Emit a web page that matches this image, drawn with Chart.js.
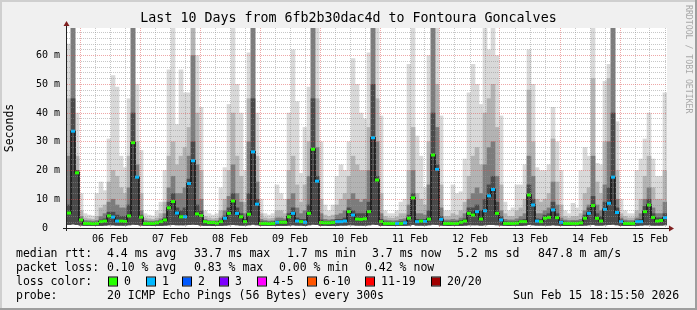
<!DOCTYPE html>
<html>
<head>
<meta charset="utf-8">
<script src="https://cdn.jsdelivr.net/npm/chart.js@4/dist/chart.umd.min.js"></script>
<style>
  html, body { margin: 0; padding: 0; background: #f0f0f0; overflow: hidden; }
  canvas { display: block; }
</style>
</head>
<body>
<canvas id="c" width="697" height="310"></canvas>
<script>
// ---- data (hours relative to 06 Feb 00:00; one bin = 1.6 h) ----
const startHour = -5.2;
const spanHours = 240;
const binHours = 1.6;
const yMax = 69.6;

const dayLabels = ['06 Feb','07 Feb','08 Feb','09 Feb','10 Feb','11 Feb','12 Feb','13 Feb','14 Feb','15 Feb'];
const yTickLabels = ['0  ','10 m','20 m','30 m','40 m','50 m','60 m'];

// median rtt (ms, shown as "m" seconds)
const medianRtt = [
  5.2,33.7,19.2,2.8,1.6,1.6,1.5,1.6,2.2,2.4,
  4.2,3.8,2.4,2.4,2.3,4.2,29.7,17.7,3.8,1.6,
  1.6,1.6,1.8,2.2,2.8,7.0,9.2,5.2,3.9,3.9,
  15.5,23.4,4.9,4.3,2.2,1.9,1.9,1.7,2.2,3.4,
  5.1,9.4,5.1,3.9,2.2,4.8,26.5,8.3,1.6,1.6,
  1.5,1.6,2.0,2.0,2.0,3.9,5.1,2.4,2.2,2.0,
  5.1,27.4,16.3,1.9,1.8,1.8,1.9,2.2,2.2,2.4,
  5.7,4.5,3.1,3.0,3.2,5.7,31.4,16.7,2.2,1.6,
  1.6,1.6,1.6,1.6,1.8,3.4,10.5,2.2,2.4,2.3,
  3.1,25.4,20.4,3.0,1.6,1.6,1.6,1.6,2.0,2.4,
  5.1,4.5,5.7,3.1,6.0,11.2,13.4,5.1,2.8,1.6,
  1.6,1.6,1.7,2.2,2.2,11.5,8.0,2.4,2.2,3.4,
  3.7,6.3,3.6,2.0,1.6,1.6,1.6,1.6,1.8,3.4,
  5.1,7.8,3.4,2.4,6.5,8.6,17.7,5.4,2.2,1.6,
  1.6,1.6,2.2,2.2,5.7,8.0,3.7,2.4,2.6,3.6
];
// lost pings per 20 in each bin
const lossCount = [
  0,1,0,0,0,0,0,0,0,0,
  0,1,1,0,0,0,0,1,0,0,
  0,0,0,0,0,0,0,1,0,1,
  1,1,0,0,0,0,0,0,0,1,
  0,0,1,0,0,0,1,1,0,0,
  0,0,1,0,0,0,1,1,0,1,
  0,0,1,0,0,0,0,1,1,1,
  0,1,0,0,0,0,1,0,0,0,
  0,0,1,0,1,0,0,1,0,1,
  0,0,1,1,0,0,0,0,0,0,
  0,0,1,0,1,1,1,0,1,0,
  0,0,0,0,0,0,1,1,0,0,
  0,1,0,1,0,0,0,0,0,0,
  1,0,0,0,1,1,1,1,1,0,
  0,0,1,1,0,0,0,0,0,1
];
// smoke: lowest ping, and upper edges of the four smoke shades (light -> dark)
const smokeLow = [
  1.2,1.4,1.2,1.0,0.9,0.9,0.8,0.9,0.9,1.0,
  1.1,1.1,1.0,1.0,1.0,1.1,1.3,1.2,1.0,0.9,
  0.9,0.8,0.9,0.9,1.0,1.1,1.2,1.1,1.1,1.1,
  1.2,1.3,1.2,1.0,0.9,0.9,0.8,0.9,0.9,1.0,
  1.1,1.2,1.1,1.0,1.0,1.1,1.3,1.1,0.9,0.9,
  0.8,0.9,0.9,0.9,0.9,1.0,1.1,1.0,1.0,0.9,
  1.1,1.3,1.2,0.9,0.9,0.8,0.9,0.9,1.0,1.0,
  1.1,1.1,1.0,1.0,1.0,1.1,1.3,1.2,0.9,0.9,
  0.8,0.8,0.9,0.9,0.9,1.0,1.2,1.0,1.0,1.0,
  1.1,1.3,1.2,1.0,0.9,0.8,0.9,0.9,0.9,1.0,
  1.1,1.1,1.1,1.0,1.1,1.2,1.2,1.1,1.0,0.9,
  0.8,0.9,0.9,0.9,1.0,1.2,1.1,1.0,1.0,1.0,
  1.0,1.1,1.0,0.9,0.8,0.8,0.9,0.9,0.9,1.0,
  1.1,1.2,1.0,1.0,1.1,1.2,1.3,1.1,0.9,0.8,
  0.8,0.9,0.9,1.0,1.1,1.1,1.0,1.0,1.0,1.1
];
const smokeLight = [
  64,70,40,12,5,4.5,4.2,12,16,13,
  31,53,49,25,21,45,70,50,27,5,
  4.5,4.2,6,9,20,55,70,36,55,47,
  47,70,60,42,6,5,4.5,5,14,21,
  43,70,50,40,20,61,70,40,10,5,
  4.5,5,15,12,10,40,62,44,19,35,
  49,70,70,30,8,6,8,18,22,20,
  30,59,50,40,38,61,70,70,39,6,
  5,5,6,9,10,57,70,32,25,14,
  60,70,70,39,6,6,15,12,12.6,24,
  47,57,50,43,70,62,70,60,39,9,
  6,7,15,15,22,62,50,21,20,20,
  22,42,30,20,6,5,8.6,7,20,28,
  25,70,22.5,22,51,57,70,37,10,6,
  5,5,20,24,31,40,24,18,18,47
];
const smokeMid = [
  45,70,25,6,3.5,3.2,3.0,4,7,8,
  16,20,18,14,12,25,70,30,12,3.5,
  3.2,3.0,3.5,5,9,25,30,22,25,28,
  35,70,40,20,4,3.5,3.2,3.4,6,10,
  20,40,25,18,9,45,70,25,5,3.5,
  3.2,3.4,6,6,5,20,25,15,9,15,
  30,70,45,10,4.5,4,4.5,8,10,12,
  18,25,22,20,20,35,70,45,12,4,
  3.5,3.4,3.8,5,5,20,35,12,10,8,
  30,70,50,15,4,4,5,4.5,6,9,
  18,25,28,22,40,45,50,35,15,5,
  4,4,6,7,10,48,30,10,9,10,
  12,31,16,8,4,3.5,4,4,5,12,
  14,52,16,12,30,52,70,20,5,4,
  3.5,3.5,6,10,18,25,14,10,10,20
];
const smokeDark = [
  25,70,20,4,2.6,2.5,2.4,2.6,4,5,
  9,10,8,7,7,14,70,22,6,2.6,
  2.4,2.4,2.6,3.2,5,14,18,12,12,14,
  25,60,22,10,3,2.6,2.5,2.5,3.5,6,
  11,22,12,9,5,30,70,16,3,2.6,
  2.4,2.5,3.5,3.5,3.2,10,12,7,5,6,
  18,70,28,5,3,2.8,3,4.5,5,6,
  10,12,10,9,10,20,70,30,5,2.8,
  2.6,2.5,2.6,3,3.2,8,20,5,5,4.5,
  15,70,35,7,2.8,2.8,3,2.8,3.5,5,
  10,12,14,12,22,28,30,18,6,3,
  2.8,2.8,3.2,4,5,25,18,5,5,6,
  7,16,8,3.5,2.8,2.6,2.7,2.7,3,6,
  8,25,8,6,15,30,70,10,3.5,2.8,
  2.6,2.6,3.5,5,10,14,7,5,5,9
];
const smokeCore = [
  8,45,20,3,2.0,2.0,1.9,2.0,2.8,3.2,
  5.5,5.5,4.5,4,4,8,40,18,4.5,2,
  2,2,2.1,2.6,3.5,9,12,7,6,7,
  17,30,8,6,2.6,2.3,2.2,2.1,2.7,4.2,
  7,12,7,5,3,12,45,10,2.2,2.1,
  2.0,2.1,2.5,2.5,2.5,5,7,3.5,3,3,
  8,45,18,2.8,2.3,2.3,2.4,3,3,3.5,
  7,6,5,5,5,9,50,18,3,2.1,
  2.1,2.0,2.1,2.2,2.4,4.5,12,3,3,3,
  6,40,22,4,2.1,2.1,2.2,2.2,2.6,3.2,
  7,7,8,6,10,15,18,9,4,2.2,
  2.1,2.1,2.3,2.8,3,15,10,3.2,3,4.5,
  5,9,5,2.6,2.1,2.0,2.1,2.1,2.3,4.5,
  7,11,5,4,9,14,40,7,2.8,2.1,
  2.0,2.0,2.8,3,7.5,10,5,3.5,3.5,5
];

// legend texts
const statRtt = ['4.4 ms avg','33.7 ms max','1.7 ms min','3.7 ms now','5.2 ms sd','847.8 m am/s'];
const statLoss = ['0.10 % avg','0.83 % max','0.00 % min','0.42 % now'];
const lossLabels = ['0','1','2','3','4-5','6-10','11-19','20/20'];
const lossColors = ['#26ff00','#00b8ff','#0059ff','#7e00ff','#ff00ff','#ff5500','#ff0000','#a10000'];
const probeText = '20 ICMP Echo Pings (56 Bytes) every 300s';
const stampText = 'Sun Feb 15 18:15:50 2026';
const titleText = 'Last 10 Days from 6fb2b30dac4d to Fontoura Goncalves';

// ---- build datasets ----
const binX = medianRtt.map((_, i) => startHour + binHours * (i + 0.5));
const band = (top) => top.map((t, i) => ({ x: binX[i], y: [smokeLow[i], t] }));
const lossColorFor = (n) => n === 0 ? lossColors[0] : n === 1 ? lossColors[1] : n === 2 ? lossColors[2] : n === 3 ? lossColors[3] : n <= 5 ? lossColors[4] : n <= 10 ? lossColors[5] : n <= 19 ? lossColors[6] : lossColors[7];

const xTicks = [];
for (let h = 0; h <= startHour + spanHours; h += 6) xTicks.push({ value: h });
const yTicks = [];
for (let v = 0; v < yMax; v += 2) yTicks.push({ value: v });

const MONO = '"DejaVu Sans Mono", "Liberation Mono", monospace';
const RED = 'rgba(222,80,80,0.5)';
const GRAY = 'rgba(143,143,143,0.5)';

const barDefaults = { type: 'bar', grouped: false, barPercentage: 1, categoryPercentage: 1, borderWidth: 0 };

const framePlugin = {
  id: 'rrdframe',
  beforeDraw(chart) {
    const { ctx, width, height, chartArea: a } = chart;
    ctx.save();
    ctx.fillStyle = '#f0f0f0'; ctx.fillRect(0, 0, width, height);
    ctx.fillStyle = '#cfcfcf'; ctx.fillRect(0, 0, width, 2); ctx.fillRect(0, 0, 2, height);
    ctx.fillStyle = '#9e9e9e'; ctx.fillRect(0, height - 2, width, 2); ctx.fillRect(width - 2, 0, 2, height);
    ctx.fillStyle = '#ffffff'; ctx.fillRect(a.left, a.top, a.right - a.left, a.bottom - a.top);
    ctx.restore();
  },
  afterDraw(chart) {
    const { ctx, chartArea: a } = chart;
    ctx.save();
    // axes
    ctx.strokeStyle = '#202020'; ctx.lineWidth = 1;
    ctx.beginPath();
    ctx.moveTo(a.left - 0.5, a.bottom + 3); ctx.lineTo(a.left - 0.5, a.top - 2);
    ctx.moveTo(a.left - 4, a.bottom + 0.5); ctx.lineTo(a.right + 2, a.bottom + 0.5);
    ctx.stroke();
    ctx.fillStyle = '#802020';
    ctx.beginPath();
    ctx.moveTo(a.left - 0.5, a.top - 7); ctx.lineTo(a.left - 3.5, a.top - 2); ctx.lineTo(a.left + 2.5, a.top - 2); ctx.closePath(); ctx.fill();
    ctx.beginPath();
    ctx.moveTo(a.right + 7, a.bottom + 0.5); ctx.lineTo(a.right + 2, a.bottom - 2.5); ctx.lineTo(a.right + 2, a.bottom + 3.5); ctx.closePath(); ctx.fill();

    // title
    ctx.fillStyle = '#000';
    ctx.textBaseline = 'middle';
    ctx.textAlign = 'center';
    ctx.font = '13.3px ' + MONO;
    ctx.fillText(titleText, 348.5, 19);

    // watermark
    ctx.save();
    ctx.translate(688, 5);
    ctx.rotate(Math.PI / 2);
    ctx.textAlign = 'left';
    ctx.fillStyle = '#a8a8a8';
    ctx.font = '8.2px ' + MONO;
    ctx.fillText('RRDTOOL / TOBI OETIKER', 0, 0);
    ctx.restore();

    // legend
    ctx.textAlign = 'left';
    ctx.font = '11.5px ' + MONO;
    ctx.fillStyle = '#000';
    const r1 = 254.5, r2 = 268.5, r3 = 282, r4 = 296;
    ctx.fillText('median rtt:', 16, r1);
    [107, 194, 287, 372, 457, 538].forEach((x, i) => ctx.fillText(statRtt[i], x, r1));
    ctx.fillText('packet loss:', 16, r2);
    [107, 194, 279, 365].forEach((x, i) => ctx.fillText(statLoss[i], x, r2));
    ctx.fillText('loss color:', 16, r3);
    [108, 146, 182, 219, 257, 307, 365, 431].forEach((x, i) => {
      ctx.fillStyle = lossColors[i];
      ctx.fillRect(x + 1, r3 - 4.5, 8, 8);
      ctx.strokeStyle = '#000';
      ctx.strokeRect(x + 0.5, r3 - 5, 9, 9);
      ctx.fillStyle = '#000';
      ctx.fillText(lossLabels[i], x + 16, r3);
    });
    ctx.fillText('probe:', 16, r4);
    ctx.fillText(probeText, 107, r4);
    ctx.fillText(stampText, 513, r4);
    ctx.restore();
  }
};

new Chart(document.getElementById('c'), {
  type: 'bar',
  data: {
    datasets: [
      {
        type: 'line', label: 'median', order: 0,
        data: medianRtt.map((v, i) => ({ x: binX[i], y: v })),
        stepped: 'middle', borderColor: '#151515', borderWidth: 1.5, fill: false,
        pointStyle: 'line', pointRadius: 2, pointHoverRadius: 2, pointBorderWidth: 3,
        pointBorderColor: lossCount.map(lossColorFor), pointBackgroundColor: lossCount.map(lossColorFor)
      },
      Object.assign({ label: 'core', order: 1, data: band(smokeCore), backgroundColor: '#4a4a4a' }, barDefaults),
      Object.assign({ label: 'dark', order: 2, data: band(smokeDark), backgroundColor: '#7c7c7c' }, barDefaults),
      Object.assign({ label: 'mid', order: 3, data: band(smokeMid), backgroundColor: '#b3b3b3' }, barDefaults),
      Object.assign({ label: 'light', order: 4, data: band(smokeLight), backgroundColor: '#d9d9d9' }, barDefaults)
    ]
  },
  options: {
    responsive: false,
    devicePixelRatio: 1,
    animation: false,
    events: [],
    layout: { padding: { left: 0, top: 28, right: 30, bottom: 0 } },
    plugins: { legend: { display: false }, tooltip: { enabled: false }, title: { display: false } },
    scales: {
      x: {
        type: 'linear', min: startHour, max: startHour + spanHours, offset: false,
        afterFit: s => { s.height = 82; },
        afterBuildTicks: s => { s.ticks = xTicks.map(t => ({ value: t.value })); },
        grid: { z: 1, offset: false, drawTicks: false, lineWidth: 1, borderDash: [1, 1],
          color: c => (c.tick && c.tick.value % 24 === 0) ? RED : GRAY },
        border: { display: false, dash: [1, 1] },
        ticks: {
          autoSkip: false, maxRotation: 0, minRotation: 0, padding: 5, color: '#000',
          font: { family: MONO, size: 10 },
          callback: v => (v % 24 === 12) ? dayLabels[(v - 12) / 24] : ''
        }
      },
      y: {
        type: 'linear', min: 0, max: yMax,
        afterFit: s => { s.width = 67; },
        afterBuildTicks: s => { s.ticks = yTicks.map(t => ({ value: t.value })); },
        grid: { z: 1, drawTicks: false, lineWidth: 1, borderDash: [1, 1],
          color: c => (c.tick && c.tick.value % 10 === 0) ? RED : GRAY },
        border: { display: false, dash: [1, 1] },
        ticks: {
          autoSkip: false, padding: 7, color: '#000',
          font: { family: MONO, size: 10 },
          callback: v => (v % 10 === 0) ? yTickLabels[v / 10] : ''
        },
        title: { display: true, text: 'Seconds', color: '#000', font: { family: MONO, size: 11.5 }, padding: { top: 3, bottom: 0 } }
      }
    }
  },
  plugins: [framePlugin]
});
</script>
</body>
</html>
